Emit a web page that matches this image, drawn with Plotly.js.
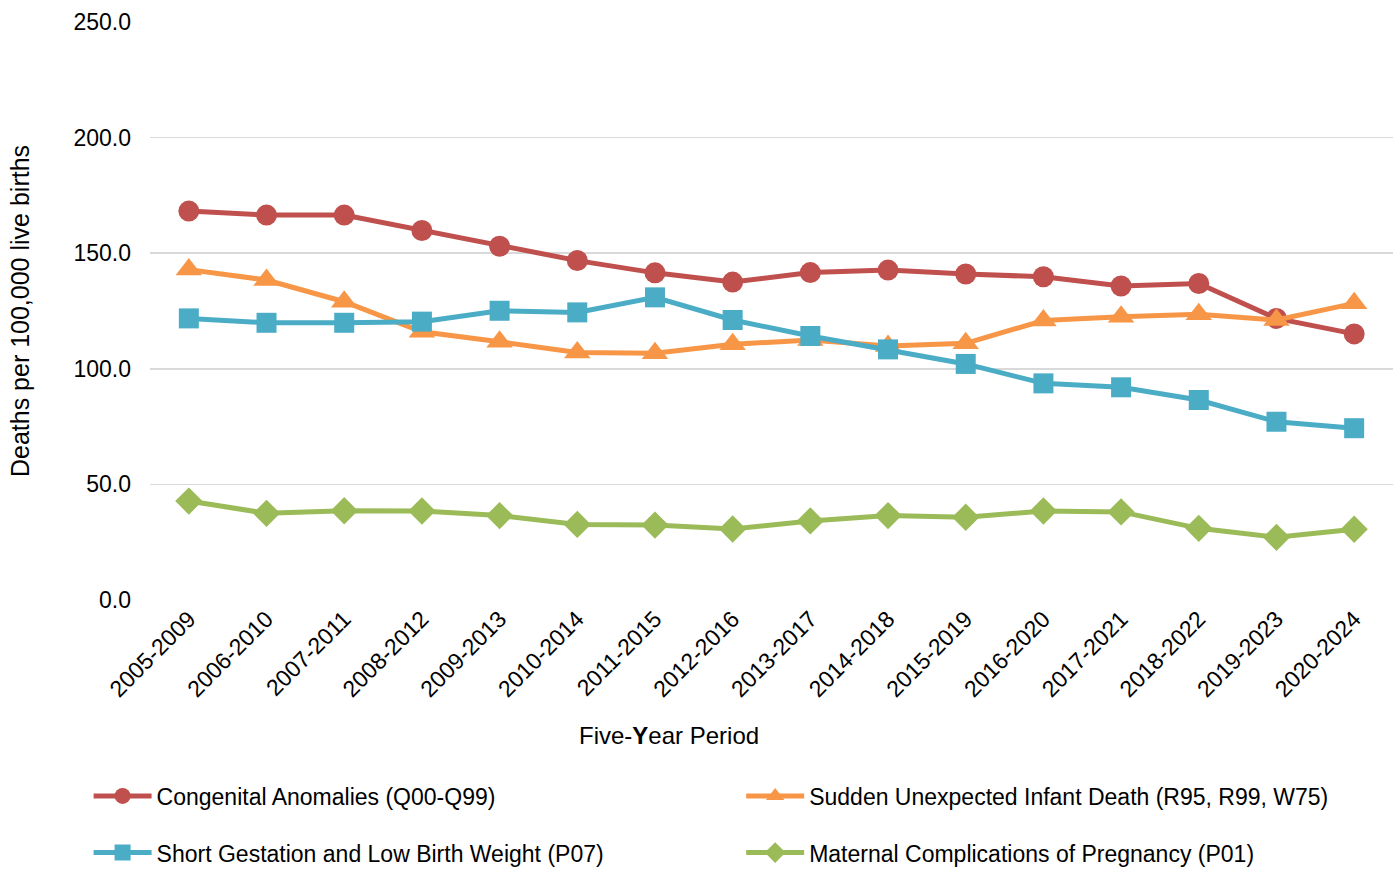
<!DOCTYPE html>
<html>
<head>
<meta charset="utf-8">
<script src="https://cdn.plot.ly/plotly-3.0.1.min.js"></script>
<style>html,body{margin:0;padding:0;background:#fff;}#chart{width:1395px;height:876px;}</style>
</head>
<body>
<div id="chart"></div>
<script>
const periods = ["2005-2009","2006-2010","2007-2011","2008-2012","2009-2013","2010-2014","2011-2015","2012-2016","2013-2017","2014-2018","2015-2019","2016-2020","2017-2021","2018-2022","2019-2023","2020-2024"];
const congenital = [168.2,166.5,166.5,159.8,153.0,146.8,141.5,137.5,141.6,142.7,141.0,139.8,135.8,136.9,121.8,115.1];
const suid = [142.9,138.4,129.0,116.0,111.7,107.1,106.7,110.6,112.5,109.9,111.0,120.9,122.5,123.6,121.1,128.3];
const shortGestation = [121.8,119.9,119.9,120.4,125.1,124.4,130.9,121.1,114.2,108.4,102.1,93.7,92.0,86.5,77.1,74.3];
const maternal = [42.8,37.5,38.6,38.5,36.5,32.7,32.4,30.7,34.2,36.5,35.8,38.5,38.1,31.0,27.1,30.6];
const seriesNames = ["Congenital Anomalies (Q00-Q99)","Sudden Unexpected Infant Death (R95, R99, W75)","Short Gestation and Low Birth Weight (P07)","Maternal Complications of Pregnancy (P01)"];
const yTicks = [0,50,100,150,200,250];

const FONT = "Liberation Sans, Arial, sans-serif";
function tr(y, name, color, symbol, size, legend) {
  return {x: periods, y: y, name: name, type: "scatter", mode: "lines+markers",
    line: {color: color, width: 5}, marker: {color: color, symbol: symbol, size: size},
    legend: legend};
}
const data = [
  tr(congenital, seriesNames[0], "#C0504D", "circle", 21, "legend"),
  tr(suid, seriesNames[1], "#F79646", "triangle-up", 23, "legend2"),
  tr(shortGestation, seriesNames[2], "#4BACC6", "square", 20, "legend3"),
  tr(maternal, seriesNames[3], "#9BBB59", "diamond", 21, "legend4")
];
function lg(x, y) {
  return {x: x, y: y, xanchor: "left", yanchor: "middle", bgcolor: "rgba(0,0,0,0)",
    borderwidth: 0, itemwidth: 58, font: {family: FONT, size: 23, color: "#000"}};
}
const layout = {
  width: 1395, height: 876,
  margin: {l: 150, r: 2, t: 22, b: 276},
  paper_bgcolor: "#fff", plot_bgcolor: "#fff",
  font: {family: FONT, size: 23, color: "#000"},
  xaxis: {type: "category", range: [-0.5, 15.5], tickangle: -45, showgrid: false, zeroline: false, showline: false,
    ticks: "", tickfont: {family: FONT, size: 23, color: "#000"}, automargin: false},
  yaxis: {range: [0, 250], tickvals: yTicks, tickformat: ".1f", showgrid: true, gridcolor: "#D9D9D9", gridwidth: 1.5,
    zeroline: false, showline: false, ticks: "", ticklabelstandoff: 18,
    tickfont: {family: FONT, size: 23, color: "#000"},
    title: {text: "Deaths per 100,000 live births", font: {family: FONT, size: 25, color: "#000"}, standoff: 36},
    automargin: false},
  annotations: [{text: "Five-<b>Y</b>ear Period", xref: "paper", yref: "paper", x: 0.4175, y: -0.2336,
    xanchor: "center", yanchor: "middle", showarrow: false, font: {family: FONT, size: 24, color: "#000"}}],
  showlegend: true,
  legend: lg(-0.0494, -0.339),
  legend2: lg(0.4756, -0.339),
  legend3: lg(-0.0494, -0.437),
  legend4: lg(0.4756, -0.437)
};
Plotly.newPlot("chart", data, layout, {displayModeBar: false, staticPlot: true});
</script>
</body>
</html>
